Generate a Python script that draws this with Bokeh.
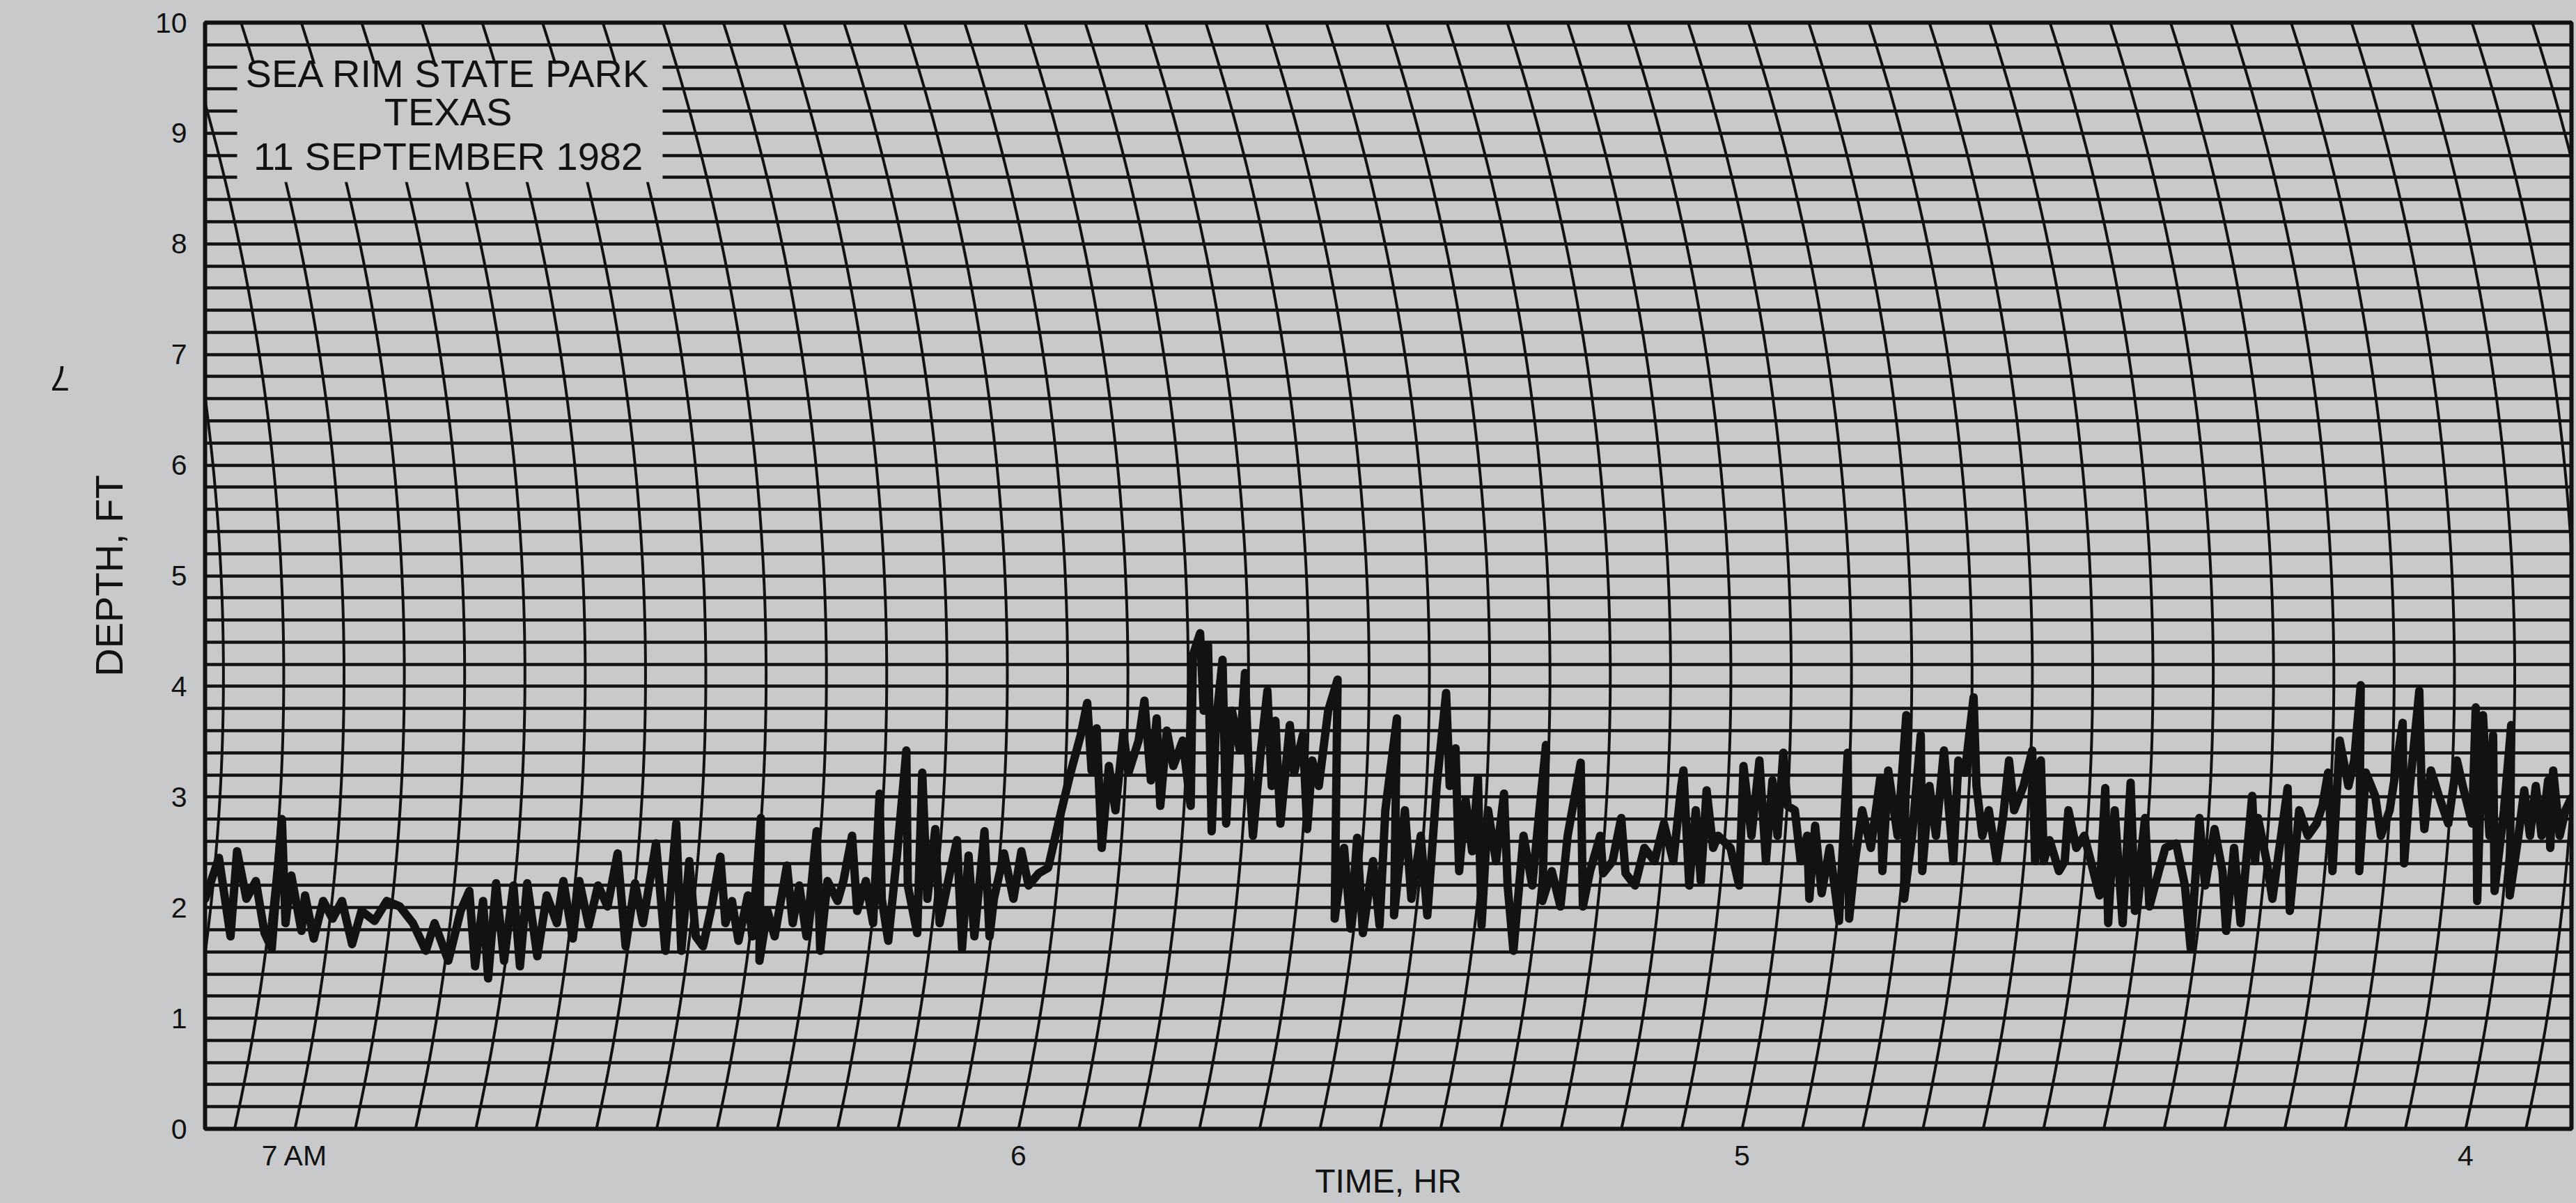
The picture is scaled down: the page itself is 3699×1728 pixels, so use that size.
import numpy as np
from bokeh.plotting import figure
from bokeh.models import Range1d, FixedTicker, LinearAxis
from bokeh.embed import file_html
from bokeh.resources import INLINE
from bokeh.core.properties import value

# ---------------- data ----------------
# time in hours (7 AM at left, decreasing to the right), depth in ft
trace_0700 = [
    (7.124, 2.08), (7.105, 2.45), (7.089, 1.74), (7.080, 2.51), (7.067, 2.08), (7.054, 2.24), (7.042, 1.77), (7.032, 1.63), (7.018, 2.80), (7.013, 1.86),
    (7.005, 2.29), (6.991, 1.79), (6.986, 2.11), (6.974, 1.72), (6.961, 2.06), (6.948, 1.90), (6.935, 2.06), (6.921, 1.67), (6.908, 1.97), (6.890, 1.88),
    (6.873, 2.06), (6.855, 2.01), (6.837, 1.86), (6.819, 1.61), (6.807, 1.86), (6.788, 1.52), (6.771, 1.97), (6.759, 2.15), (6.751, 1.47), (6.740, 2.06),
    (6.733, 1.36), (6.722, 2.22), (6.711, 1.52), (6.698, 2.20), (6.689, 1.47), (6.679, 2.22), (6.665, 1.56), (6.652, 2.11), (6.638, 1.86), (6.629, 2.24),
    (6.616, 1.72), (6.607, 2.24), (6.594, 1.84), (6.581, 2.20), (6.568, 2.01), (6.554, 2.49), (6.543, 1.65), (6.530, 2.22), (6.519, 1.86), (6.501, 2.58),
    (6.488, 1.61), (6.473, 2.76), (6.466, 1.61), (6.455, 2.42), (6.446, 1.74),
]
trace_0626 = [
    (6.436, 1.65), (6.424, 2.01), (6.412, 2.46), (6.405, 1.86), (6.396, 2.06), (6.387, 1.70), (6.374, 2.11), (6.368, 1.74), (6.356, 2.81), (6.358, 1.52),
    (6.347, 1.97), (6.337, 1.74), (6.320, 2.38), (6.312, 1.86), (6.303, 2.20), (6.293, 1.74), (6.279, 2.69), (6.274, 1.61), (6.264, 2.24), (6.250, 2.06),
    (6.242, 2.24), (6.230, 2.65), (6.223, 1.97), (6.211, 2.24), (6.201, 1.86), (6.192, 3.03), (6.189, 2.08), (6.180, 1.70), (6.168, 2.47), (6.155, 3.42),
    (6.153, 2.20), (6.140, 1.77), (6.133, 3.22), (6.126, 2.08), (6.115, 2.71), (6.109, 1.86), (6.095, 2.31), (6.085, 2.61), (6.078, 1.63), (6.069, 2.47),
    (6.061, 1.74), (6.047, 2.69), (6.040, 1.74), (6.034, 2.08), (6.020, 2.49), (6.007, 2.08), (5.996, 2.51), (5.986, 2.20), (5.972, 2.31), (5.959, 2.36),
    (5.945, 2.76), (5.928, 3.22), (5.914, 3.56), (5.905, 3.85), (5.899, 3.24), (5.892, 3.62), (5.885, 2.54), (5.875, 3.28), (5.866, 2.88), (5.855, 3.58),
    (5.848, 3.22), (5.834, 3.51), (5.826, 3.87), (5.817, 3.15), (5.809, 3.71), (5.804, 2.92), (5.795, 3.60), (5.786, 3.28), (5.773, 3.51), (5.762, 2.92),
    (5.759, 4.28),
]
trace_0545 = [
    (5.749, 4.48), (5.744, 3.78), (5.738, 4.37), (5.733, 2.69), (5.727, 3.67), (5.718, 4.24), (5.713, 2.76), (5.705, 3.78), (5.694, 3.42), (5.687, 4.12),
    (5.682, 3.28), (5.676, 2.65), (5.665, 3.42), (5.656, 3.96), (5.650, 3.10), (5.645, 3.69), (5.638, 2.76), (5.625, 3.65), (5.619, 3.22), (5.607, 3.56),
    (5.601, 2.71), (5.594, 3.33), (5.585, 3.10), (5.572, 3.78), (5.559, 4.06), (5.563, 1.90), (5.550, 2.54), (5.541, 1.81), (5.532, 2.63), (5.524, 1.77),
    (5.510, 2.42), (5.501, 1.84), (5.493, 2.88), (5.477, 3.71), (5.481, 1.93), (5.466, 2.88), (5.457, 2.08), (5.444, 2.65), (5.435, 1.93), (5.422, 3.10),
    (5.409, 3.94), (5.404, 3.10), (5.396, 3.44), (5.391, 2.33), (5.382, 2.97), (5.373, 2.51), (5.365, 3.17), (5.360, 1.84), (5.351, 2.88), (5.340, 2.42),
    (5.329, 3.03), (5.324, 2.20), (5.316, 1.61), (5.302, 2.65), (5.290, 2.20), (5.280, 2.88), (5.271, 3.47), (5.276, 2.06), (5.263, 2.33), (5.251, 2.01),
    (5.241, 2.65), (5.223, 3.31), (5.220, 2.01), (5.210, 2.33), (5.196, 2.65), (5.192, 2.31), (5.179, 2.42), (5.167, 2.81), (5.161, 2.31), (5.148, 2.20),
    (5.135, 2.54), (5.121, 2.42), (5.108, 2.76), (5.095, 2.42), (5.084, 3.10),
]
trace_0505 = [
    (5.081, 3.24), (5.073, 2.20), (5.064, 2.88), (5.057, 2.24), (5.049, 3.06), (5.040, 2.54), (5.033, 2.65), (5.016, 2.54), (5.004, 2.20), (4.998, 3.28),
    (4.987, 2.65), (4.976, 3.33), (4.967, 2.42), (4.958, 3.15), (4.951, 2.65), (4.943, 3.40), (4.937, 2.92), (4.927, 2.88), (4.919, 2.42), (4.910, 2.65),
    (4.907, 2.08), (4.899, 2.74), (4.890, 2.13), (4.879, 2.54), (4.866, 1.88), (4.854, 3.40), (4.852, 1.90), (4.844, 2.42), (4.834, 2.88), (4.822, 2.54),
    (4.809, 3.17), (4.806, 2.33), (4.798, 3.24), (4.785, 2.65), (4.773, 3.74), (4.776, 2.08), (4.765, 2.65), (4.753, 3.56), (4.751, 2.33), (4.741, 3.10),
    (4.732, 2.65), (4.721, 3.42), (4.708, 2.42), (4.701, 3.33), (4.692, 3.22), (4.680, 3.90), (4.676, 3.10), (4.668, 2.65), (4.659, 2.88), (4.648, 2.42),
    (4.639, 2.83), (4.631, 3.33), (4.624, 2.88), (4.611, 3.10), (4.599, 3.42), (4.595, 2.42), (4.587, 3.33), (4.583, 2.42), (4.575, 2.61), (4.562, 2.33),
    (4.554, 2.42), (4.549, 2.88), (4.538, 2.54), (4.527, 2.65), (4.518, 2.42), (4.506, 2.11), (4.498, 3.08), (4.494, 1.86), (4.485, 2.88),
]
trace_0428 = [
    (4.474, 1.86), (4.463, 3.13), (4.457, 1.97), (4.443, 2.81), (4.437, 2.01), (4.424, 2.33), (4.415, 2.54), (4.400, 2.58), (4.388, 2.20), (4.380, 1.63),
    (4.368, 2.81), (4.360, 2.20), (4.347, 2.71), (4.336, 2.33), (4.331, 1.79), (4.320, 2.54), (4.311, 1.86), (4.295, 3.01), (4.291, 2.42), (4.287, 2.81),
    (4.275, 2.42), (4.267, 2.08), (4.255, 2.65), (4.246, 3.08), (4.243, 1.97), (4.230, 2.88), (4.218, 2.65), (4.206, 2.76), (4.198, 2.92), (4.190, 3.22),
    (4.184, 2.33), (4.174, 3.51), (4.162, 3.10), (4.154, 3.33), (4.145, 4.01), (4.147, 2.33), (4.138, 3.22), (4.125, 3.01), (4.117, 2.65), (4.105, 2.88),
    (4.097, 3.22), (4.087, 3.67), (4.085, 2.40), (4.077, 3.10), (4.064, 3.96), (4.061, 3.10), (4.057, 2.71), (4.048, 3.24), (4.037, 3.01), (4.024, 2.76),
    (4.012, 3.33), (4.004, 3.10), (3.991, 2.76), (3.986, 3.81), (3.984, 2.06), (3.976, 3.74), (3.967, 2.65), (3.962, 3.56), (3.960, 2.15), (3.947, 2.88),
    (3.937, 3.65), (3.939, 2.11), (3.927, 2.65), (3.919, 3.06), (3.911, 2.65), (3.903, 3.10), (3.895, 2.65), (3.886, 3.15), (3.883, 2.54), (3.879, 3.24),
    (3.870, 2.65), (3.862, 2.88), (3.854, 2.99),
]

hour_ticks = [7, 6, 5, 4]
hour_labels = ["7 AM", "6", "5", "4"]
depth_ticks = [0, 1, 2, 3, 4, 5, 6, 7, 8, 9, 10]
title_lines = ["SEA RIM STATE PARK", "TEXAS", "11 SEPTEMBER 1982"]
x_title = "TIME, HR"
y_title = "DEPTH, FT"
page_number = "7"

# ---------------- layout / style ----------------
PAPER = "#c8c9cb"
INK = "#121212"
FONT = "Liberation Sans"

W, H = 3699, 1728
BL, BR, BT, BB = 294, 7, 32, 107
FW = W - BL - BR
FH = H - BT - BB
FRAME_L = BL
FRAME_T = BT

PPH = 1039.0             # pixels per hour
X_START = 6.0 + (1462 - FRAME_L) / PPH   # 6 o'clock line meets the bottom at x=1462
X_END = X_START - FW / PPH
PPF = FH / 10.0          # pixels per foot


def px_to_h(xp):
    return X_START - (xp - FRAME_L) / PPH


def py_to_d(yp):
    return 10.0 - (yp - FRAME_T) / PPF


p = figure(width=W, height=H,
           x_range=Range1d(X_START, X_END), y_range=Range1d(0, 10),
           output_backend="svg", toolbar_location=None,
           min_border_left=BL, min_border_right=BR,
           min_border_top=BT, min_border_bottom=BB,
           background_fill_color=PAPER, border_fill_color=PAPER)

p.outline_line_color = INK
p.outline_line_width = 6

# horizontal chart-paper lines every 0.2 ft
p.xgrid.visible = False
p.ygrid.ticker = FixedTicker(ticks=[round(0.2 * i, 1) for i in range(51)])
p.ygrid.grid_line_color = INK
p.ygrid.grid_line_width = 4.5
p.ygrid.grid_line_alpha = 1.0

# curved time lines (recorder pen arc) every 5 minutes
ARC_D = 4.1      # depth at which arcs are vertical
ARC_R = 3044.0   # arc radius in pixels
arc_y = np.linspace(0, 10, 81)


def arc_off(y):
    return ARC_R - np.sqrt(ARC_R ** 2 - ((y - ARC_D) * PPF) ** 2)


arc_shift = (arc_off(0.0) - arc_off(arc_y)) / PPH
arc_times = [7.25 - k / 12.0 for k in range(43)]
p.multi_line(xs=[list(t - arc_shift) for t in arc_times],
             ys=[list(arc_y) for _ in arc_times],
             line_color=INK, line_width=4)

# blank box behind title
p.quad(left=[px_to_h(340)], right=[px_to_h(951)],
       top=[py_to_d(91)], bottom=[py_to_d(261)],
       fill_color=PAPER, line_color=None)

p.text(x=[px_to_h(643)] * 3,
       y=[py_to_d(105), py_to_d(160), py_to_d(224)],
       text=title_lines, text_align="center", text_baseline="middle",
       text_font=value(FONT), text_font_size="56px", text_color=INK)

# the recorded trace
trace = trace_0700 + trace_0626 + trace_0545 + trace_0505 + trace_0428
p.line(x=[t for t, d in trace], y=[d for t, d in trace],
       line_color=INK, line_width=12, line_join="round", line_cap="round")

# axes
p.xaxis.ticker = FixedTicker(ticks=hour_ticks)
p.xaxis.major_label_overrides = {t: lab for t, lab in zip(hour_ticks, hour_labels)}
p.yaxis.ticker = FixedTicker(ticks=depth_ticks)
p.xaxis.axis_label = x_title
p.yaxis.axis_label = y_title
for ax in (p.xaxis[0], p.yaxis[0]):
    ax.axis_line_color = None
    ax.major_tick_line_color = None
    ax.minor_tick_line_color = None
    ax.major_label_text_font = FONT
    ax.major_label_text_font_size = "41px"
    ax.major_label_text_color = INK
    ax.axis_label_text_font = FONT
    ax.axis_label_text_font_style = "normal"
    ax.axis_label_text_color = INK
p.xaxis.axis_label_text_font_size = "48px"
p.yaxis.axis_label_text_font_size = "56px"
p.xaxis.major_label_standoff = 9
p.xaxis.axis_label_standoff = -16
p.yaxis.major_label_standoff = 20
p.yaxis.axis_label_standoff = 32

# page number of the report (printed upside-down in the left margin)
pn_depth = py_to_d(543)
pn_axis = LinearAxis(ticker=FixedTicker(ticks=[pn_depth]),
                     major_label_overrides={pn_depth: page_number},
                     major_label_orientation=np.pi,
                     major_label_text_font=FONT, major_label_text_font_size="50px",
                     major_label_text_color=INK, major_label_standoff=43,
                     axis_line_color=None, major_tick_line_color=None,
                     minor_tick_line_color=None)
p.add_layout(pn_axis, "left")

html = file_html(p, INLINE, title="Sea Rim State Park depth record",
                 template="{% block postamble %}<style>html, body { background: #c8c9cb; }</style>{% endblock %}")
open("out.html", "w").write(html)
